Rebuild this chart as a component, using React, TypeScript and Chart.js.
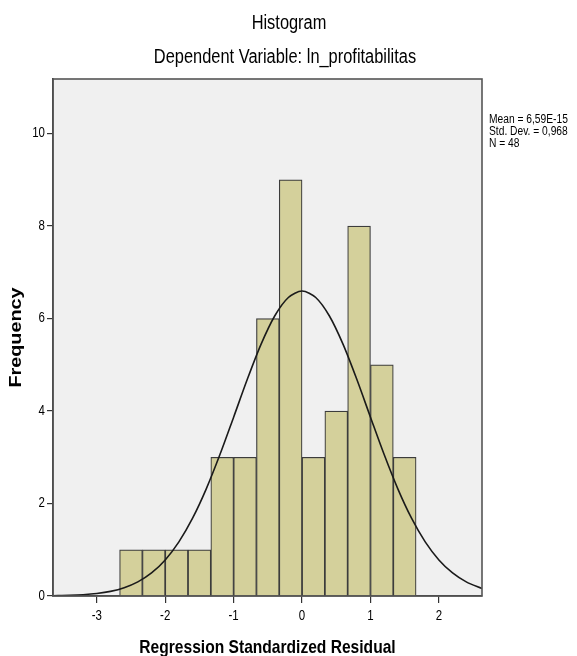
import React, { useEffect, useRef } from "react";
import { Chart, registerables } from "chart.js";

Chart.register(...registerables);

// Histogram bins (centres, width 1/3) and counts
const binCenters = [-2.5, -2.1667, -1.8333, -1.5, -1.1667, -0.8333, -0.5, -0.1667, 0.1667, 0.5, 0.8333, 1.1667, 1.5];
const counts = [1, 1, 1, 1, 3, 3, 6, 9, 3, 4, 8, 5, 3];

// Normal curve
const curveX = [-3.64, -3.4, -3.2, -3.0, -2.8, -2.6, -2.4, -2.2, -2.0, -1.8, -1.6, -1.4, -1.2, -1.0, -0.8, -0.6, -0.4, -0.2, 0, 0.2, 0.4, 0.6, 0.8, 1.0, 1.2, 1.4, 1.6, 1.8, 2.0, 2.2, 2.4, 2.63];
const curveY = [0.006, 0.014, 0.028, 0.054, 0.1, 0.179, 0.305, 0.498, 0.78, 1.17, 1.682, 2.317, 3.058, 3.867, 4.686, 5.441, 6.055, 6.455, 6.594, 6.455, 6.055, 5.441, 4.686, 3.867, 3.058, 2.317, 1.682, 1.17, 0.78, 0.498, 0.305, 0.16];

const xTicks = [-3, -2, -1, 0, 1, 2];
const yTicks = [0, 2, 4, 6, 8, 10];

const titleText = "Histogram";
const subtitleText = "Dependent Variable: ln_profitabilitas";
const xTitle = "Regression Standardized Residual";
const yTitle = "Frequency";
const statsLines = ["Mean = 6,59E-15", "Std. Dev. = 0,968", "N = 48"];

const SANS = '"Liberation Sans", Arial, sans-serif';
const SQ = 0.82; // horizontal squeeze of the original rendering

function narrowText(ctx: any, text: string, x: number, y: number, font: string, align: "left" | "center" | "right") {
  ctx.save();
  ctx.font = font;
  ctx.textAlign = align;
  ctx.translate(x, y);
  ctx.scale(SQ, 1);
  ctx.fillText(text, 0, 0);
  ctx.restore();
}

const decorPlugin = {
  id: "decor",
  beforeDraw(chart: any) {
    const { ctx, chartArea: a } = chart;
    ctx.save();
    ctx.fillStyle = "#ffffff";
    ctx.fillRect(0, 0, chart.width, chart.height);
    ctx.fillStyle = "#f0f0f0";
    ctx.fillRect(a.left, a.top, a.right - a.left, a.bottom - a.top);
    ctx.restore();
  },
  afterDraw(chart: any) {
    const { ctx, chartArea: a } = chart;
    const xs = chart.scales.x;
    const ys = chart.scales.y;
    ctx.save();
    // frame
    ctx.strokeStyle = "#555555";
    ctx.lineWidth = 1.6;
    ctx.strokeRect(a.left, a.top, a.right - a.left, a.bottom - a.top);

    ctx.fillStyle = "#000";
    ctx.textBaseline = "alphabetic";
    narrowText(ctx, titleText, 289, 29, `20px ${SANS}`, "center");
    narrowText(ctx, subtitleText, 285, 63, `20px ${SANS}`, "center");
    narrowText(ctx, xTitle, (a.left + a.right) / 2, 653, `bold 19px ${SANS}`, "center");

    // tick labels, positioned by the chart's scales
    xTicks.forEach((v) => narrowText(ctx, String(v), xs.getPixelForValue(v), 620, `14px ${SANS}`, "center"));
    ctx.textBaseline = "middle";
    yTicks.forEach((v) => narrowText(ctx, String(v), 45, ys.getPixelForValue(v), `14px ${SANS}`, "right"));
    ctx.textBaseline = "alphabetic";

    ctx.save();
    ctx.translate(21, (a.top + a.bottom) / 2);
    ctx.rotate(-Math.PI / 2);
    ctx.scale(1.2, 1);
    ctx.font = `bold 16.5px ${SANS}`;
    ctx.textAlign = "center";
    ctx.fillText(yTitle, 0, 0);
    ctx.restore();

    statsLines.forEach((t, i) => narrowText(ctx, t, 489, 123 + i * 12, `12.5px ${SANS}`, "left"));
    ctx.restore();
  },
};

export default function App() {
  const ref = useRef<HTMLCanvasElement>(null);
  useEffect(() => {
    if (!ref.current) return;
    const chart = new Chart(ref.current, {
      type: "bar",
      data: {
        datasets: [
          {
            type: "line",
            data: curveX.map((x, i) => ({ x, y: curveY[i] })),
            borderColor: "#1a1a1a",
            borderWidth: 1.6,
            pointRadius: 0,
            tension: 0.3,
            fill: false,
            order: 1,
          } as any,
          {
            type: "bar",
            data: binCenters.map((x, i) => ({ x, y: counts[i] })),
            backgroundColor: "#d4d09b",
            borderColor: "#3c3c3c",
            borderWidth: 1.2,
            barPercentage: 1,
            categoryPercentage: 1,
            grouped: false,
            order: 2,
          } as any,
        ],
      },
      options: {
        responsive: false,
        animation: false,
        devicePixelRatio: 1,
        layout: { padding: { left: 0, right: 95, top: 79, bottom: 0 } },
        plugins: { legend: { display: false }, tooltip: { enabled: false }, title: { display: false } },
        scales: {
          x: {
            type: "linear",
            offset: false,
            min: -3.64,
            max: 2.63,
            afterBuildTicks: (s: any) => {
              s.ticks = xTicks.map((v) => ({ value: v }));
            },
            afterFit: (s: any) => {
              s.height = 60;
            },
            ticks: { display: false, autoSkip: false, maxRotation: 0 },
            grid: { offset: false, drawOnChartArea: false, drawTicks: true, tickLength: 7, color: "#333", lineWidth: 1.2 },
            border: { display: true, color: "#333", width: 1.6 },
          },
          y: {
            type: "linear",
            min: 0,
            max: 11.18,
            afterBuildTicks: (s: any) => {
              s.ticks = yTicks.map((v) => ({ value: v }));
            },
            afterFit: (s: any) => {
              s.width = 53;
            },
            ticks: { display: false, autoSkip: false },
            grid: { drawOnChartArea: false, drawTicks: true, tickLength: 6, color: "#333", lineWidth: 1.2 },
            border: { display: true, color: "#333", width: 1.6 },
          },
        },
      },
      plugins: [decorPlugin],
    } as any);
    return () => chart.destroy();
  }, []);
  return (
    <div style={{ position: "absolute", left: 0, top: 0, width: 577, height: 656 }}>
      <canvas ref={ref} width={577} height={656} style={{ width: 577, height: 656 }} />
    </div>
  );
}
